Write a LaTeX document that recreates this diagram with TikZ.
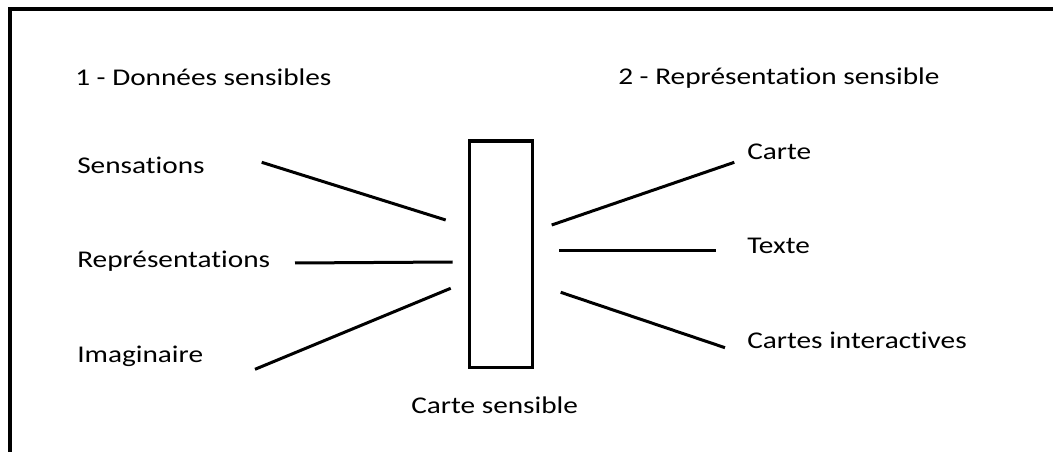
\documentclass[tikz,border=0pt]{standalone}
\usepackage{fontspec}
\setmainfont{Carlito}[FakeStretch=1.22, RawFeature=-liga]
\usetikzlibrary{positioning}

\begin{document}
\begin{tikzpicture}[x=0.75pt, y=-0.75pt]
    \tikzset{txt/.style = {anchor=base west, inner sep=0pt, font=\fontsize{18}{22}\selectfont},
             link/.style = {draw, line width=2.25pt},
             card/.style = {draw, rectangle, line width=2.5pt, minimum width = 47.25pt, minimum height = 170pt}
            }
    \useasboundingbox (0,0) rectangle (1053,452);
    \draw[line width=3pt] (10.3,452) -- (10.3,9) -- (1053,9);

    \node (donnees) [txt] at (75,86) {1 - Données sensibles};
    \node (repsens) [txt] at (618,85) {2 - Représentation sensible};

    \node (sens) [txt] at (77,174) {Sensations};
    \node (repr) [txt] at (77,268) {Représentations};
    \node (imag) [txt] at (77,363) {Imaginaire};

    \node (carte) [txt] at (747,160) {Carte};
    \node (texte) [txt] at (747,254) {Texte};
    \node (inter) [txt] at (747,349) {Cartes interactives};

    \node (box) [card] at (501,254.3) {};
    \node (boxlbl) [txt] at (411,413) {Carte sensible};

    % ends of the connectors
    \coordinate (sens-a) at (261.7,162.3);  \coordinate (sens-b) at (445.7,220);
    \coordinate (repr-a) at (295,263);      \coordinate (repr-b) at (452.7,262);
    \coordinate (imag-a) at (255,369.3);    \coordinate (imag-b) at (450.7,288.3);
    \coordinate (carte-a) at (551.7,225);   \coordinate (carte-b) at (734.3,162.3);
    \coordinate (texte-a) at (559.3,251);   \coordinate (texte-b) at (715.7,251);
    \coordinate (inter-a) at (560.7,292.3); \coordinate (inter-b) at (725,347.7);

    \path[link] (sens-a) -- (sens-b);
    \path[link] (repr-a) -- (repr-b);
    \path[link] (imag-a) -- (imag-b);
    \path[link] (carte-a) -- (carte-b);
    \path[link] (texte-a) -- (texte-b);
    \path[link] (inter-a) -- (inter-b);
\end{tikzpicture}
\end{document}
